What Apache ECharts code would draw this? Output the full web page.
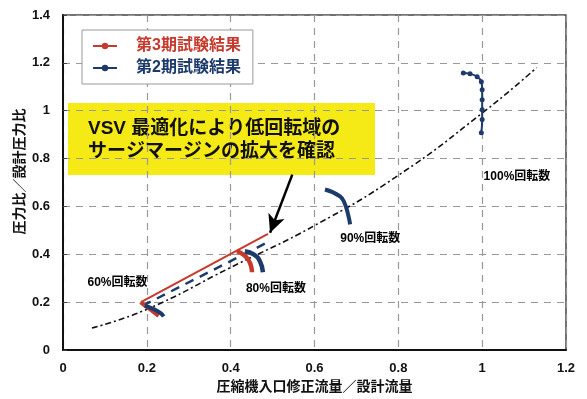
<!DOCTYPE html>
<html>
<head>
<meta charset="utf-8">
<script src="https://cdn.jsdelivr.net/npm/echarts@6/dist/echarts.min.js"></script>
<style>
  html, body { margin: 0; padding: 0; background: #fff; }
  #chart { width: 587px; height: 399px; }
</style>
</head>
<body>
<div id="chart"></div>
<script>
// 第3期試験結果（赤）
const p3Line = [[0.186, 0.2], [0.489, 0.485]]
const p3Arc60 = [[0.185, 0.2], [0.2, 0.18], [0.215, 0.16], [0.228, 0.142]]
const p3Arc80 = [[0.415, 0.413], [0.435, 0.392], [0.447, 0.36], [0.451, 0.325]]

// 第2期試験結果（紺）
const p2Line = [[0.19, 0.185], [0.488, 0.45]]
const p2Arc60 = [[0.195, 0.185], [0.215, 0.172], [0.232, 0.155], [0.24, 0.14]]
const p2Arc80 = [[0.434, 0.413], [0.455, 0.4], [0.47, 0.37], [0.477, 0.325]]
const p2Arc90 = [[0.625, 0.671], [0.661, 0.642], [0.673, 0.608], [0.68, 0.567], [0.685, 0.525]]
const p2Arc100 = [[0.955, 1.158], [0.971, 1.154], [0.988, 1.142], [0.998, 1.121], [1.0, 1.088],
  [1.0, 1.046], [1.0, 1.004], [1.0, 0.963], [0.998, 0.908]]

// 一点鎖線
const surgeLine = [[0.069, 0.092], [0.2, 0.17], [0.4, 0.345], [0.6, 0.52], [0.8, 0.73], [1.0, 0.99], [1.13, 1.18]]

// 回転数ラベル
const speedNames = ['60%回転数', '80%回転数', '90%回転数', '100%回転数']
const speedLabelAt = [[0.13, 0.283], [0.508, 0.258], [0.733, 0.467], [1.083, 0.725]]

// 矢印
const arrowFrom = [0.547, 0.733]
const arrowTo = [0.494, 0.49]

const calloutText = 'VSV 最適化により低回転域の\nサージマージンの拡大を確認'

const RED = '#c63a2d'
const NAVY = '#1c3a6b'
const FONT = "'Liberation Sans', 'Noto Sans CJK JP', sans-serif"

const myChart = echarts.init(document.getElementById('chart'))

function arc(name, data, color, width) {
  return {
    name: name,
    type: 'line',
    data: data,
    smooth: true,
    showSymbol: false,
    symbol: 'circle',
    symbolSize: 6,
    lineStyle: { color: color, width: width },
    itemStyle: { color: color },
    z: 4
  }
}

const option = {
  animation: false,
  textStyle: { fontFamily: FONT },
  grid: {
    left: 63, right: 21, top: 15, bottom: 48,
    show: true, borderColor: '#444', borderWidth: 1.5
  },
  legend: {
    orient: 'vertical',
    left: 82,
    top: 30,
    data: [
      { name: '第3期試験結果', textStyle: { color: RED } },
      { name: '第2期試験結果', textStyle: { color: NAVY } }
    ],
    backgroundColor: '#fff',
    borderColor: '#999',
    borderWidth: 1,
    padding: [8, 12, 8, 10],
    itemGap: 6,
    itemWidth: 24,
    itemHeight: 8,
    textStyle: { fontSize: 16, fontWeight: 'bold', fontFamily: FONT, padding: [0, 0, 0, 14] }
  },
  xAxis: {
    type: 'value',
    min: 0, max: 1.2, interval: 0.2,
    name: '圧縮機入口修正流量／設計流量',
    nameLocation: 'middle',
    nameGap: 30,
    nameTextStyle: { fontSize: 14, fontWeight: 'bold', color: '#111', fontFamily: FONT },
    axisLine: { lineStyle: { color: '#111', width: 2 } },
    axisTick: { show: false },
    axisLabel: { fontSize: 13, fontWeight: 'bold', color: '#111', margin: 12 },
    splitLine: { lineStyle: { color: '#999', width: 1.2, type: [7, 6] } }
  },
  yAxis: {
    type: 'value',
    min: 0, max: 1.4, interval: 0.2,
    name: '圧力比／設計圧力比',
    nameLocation: 'middle',
    nameGap: 36,
    nameMoveOverlap: false,
    nameTextStyle: { fontSize: 14, fontWeight: 'bold', color: '#111', fontFamily: FONT, padding: [0, 0, 0, 22] },
    axisLine: { show: true, lineStyle: { color: '#111', width: 2 } },
    axisTick: { show: true, inside: true, length: 4, lineStyle: { color: '#444' } },
    axisLabel: { fontSize: 13, fontWeight: 'bold', color: '#111', margin: 13 },
    splitLine: { lineStyle: { color: '#999', width: 1.2, type: [7, 6] } }
  },
  series: [
    {
      name: '第3期試験結果',
      type: 'line',
      data: p3Line,
      showSymbol: false,
      symbol: 'circle',
      symbolSize: 6,
      lineStyle: { color: RED, width: 2 },
      itemStyle: { color: RED },
      z: 3
    },
    {
      name: '第2期試験結果',
      type: 'line',
      data: p2Arc100,
      smooth: true,
      symbol: 'circle',
      symbolSize: 5,
      lineStyle: { color: NAVY, width: 2 },
      itemStyle: { color: NAVY },
      z: 4
    },
    {
      name: '第2期試験結果',
      type: 'line',
      data: p2Line,
      showSymbol: false,
      symbol: 'circle',
      symbolSize: 6,
      lineStyle: { color: NAVY, width: 2.5, type: [9, 7] },
      itemStyle: { color: NAVY },
      z: 3
    },
    arc('第3期試験結果', p3Arc60, RED, 4),
    arc('第3期試験結果', p3Arc80, RED, 4.5),
    arc('第2期試験結果', p2Arc60, NAVY, 4),
    arc('第2期試験結果', p2Arc80, NAVY, 4.5),
    arc('第2期試験結果', p2Arc90, NAVY, 4),
    {
      name: 'surge',
      type: 'line',
      data: surgeLine,
      smooth: true,
      showSymbol: false,
      lineStyle: { color: '#111', width: 1.6, type: [6, 3, 2, 3] },
      z: 2,
      markLine: {
        silent: true,
        symbol: ['none', 'arrow'],
        symbolSize: [13, 18],
        label: { show: false },
        lineStyle: { color: '#000', width: 2.5, type: 'solid' },
        data: [[{ coord: arrowFrom }, { coord: arrowTo }]]
      }
    },
    {
      name: 'labels',
      type: 'scatter',
      symbolSize: 0,
      itemStyle: { opacity: 1 },
      data: speedNames.map((n, i) => ({ name: n, value: speedLabelAt[i] })),
      label: {
        show: true,
        position: 'inside',
        formatter: '{b}',
        fontSize: 12,
        fontWeight: 'bold',
        color: '#000',
        opacity: 1,
        textBorderWidth: 0,
        fontFamily: FONT
      },
      z: 5
    }
  ],
  graphic: [
    {
      type: 'group',
      left: 68,
      top: 103,
      z: 10,
      children: [
        {
          type: 'rect',
          shape: { x: 0, y: 0, width: 307, height: 72 },
          style: { fill: '#f6ea16' }
        },
        {
          type: 'text',
          x: 20,
          y: 14,
          style: {
            text: calloutText,
            fill: '#111',
            fontSize: 19,
            fontWeight: 'bold',
            lineHeight: 23,
            fontFamily: FONT
          }
        }
      ]
    }
  ]
}

option && myChart.setOption(option)
</script>
</body>
</html>
